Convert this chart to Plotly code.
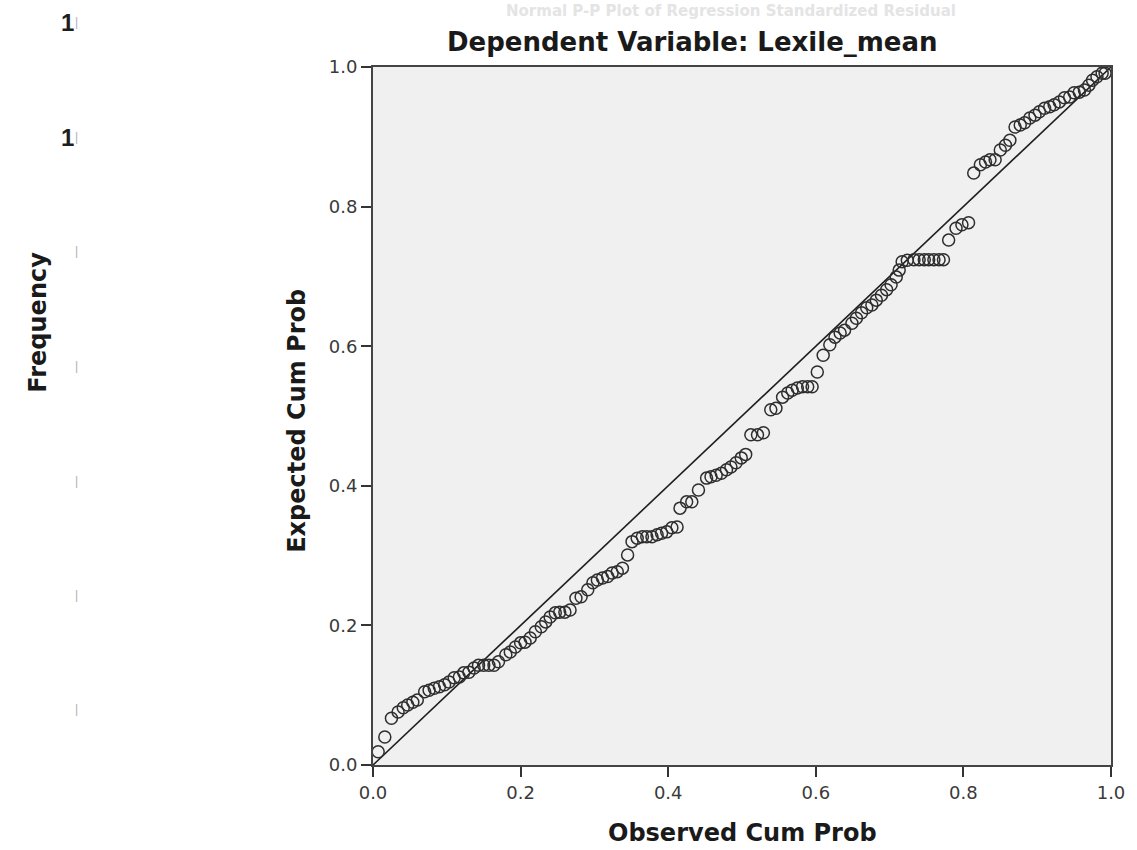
import plotly.graph_objects as go

# ---------------- data ----------------
observed_cum_prob = [
    0.007, 0.016, 0.025, 0.034, 0.041, 0.047, 0.054, 0.060, 0.070, 0.076,
    0.083, 0.090, 0.097, 0.103, 0.110, 0.117, 0.123, 0.130, 0.137, 0.143,
    0.150, 0.157, 0.164, 0.170, 0.180, 0.186, 0.193, 0.200, 0.206, 0.213,
    0.220, 0.228, 0.234, 0.240, 0.247, 0.253, 0.260, 0.267, 0.275, 0.282,
    0.291, 0.298, 0.304, 0.311, 0.318, 0.324, 0.331, 0.338, 0.345, 0.351,
    0.358, 0.365, 0.371, 0.378, 0.385, 0.391, 0.398, 0.405, 0.412, 0.416,
    0.425, 0.432, 0.441, 0.452, 0.458, 0.465, 0.472, 0.479, 0.485, 0.492,
    0.499, 0.505, 0.512, 0.521, 0.529, 0.539, 0.546, 0.555, 0.562, 0.568,
    0.575, 0.582, 0.589, 0.595, 0.602, 0.610, 0.619, 0.626, 0.633, 0.639,
    0.649, 0.655, 0.662, 0.669, 0.676, 0.682, 0.689, 0.696, 0.702, 0.709,
    0.713, 0.717, 0.724, 0.733, 0.740, 0.747, 0.753, 0.760, 0.767, 0.773,
    0.780, 0.790, 0.798, 0.807, 0.814, 0.823, 0.830, 0.836, 0.843, 0.850,
    0.857, 0.863, 0.870, 0.877, 0.883, 0.890, 0.897, 0.903, 0.910, 0.917,
    0.923, 0.930, 0.937, 0.944, 0.950, 0.957, 0.964, 0.970, 0.975, 0.981,
    0.988, 0.992,
]
expected_cum_prob = [
    0.019, 0.040, 0.067, 0.076, 0.082, 0.086, 0.090, 0.093, 0.105, 0.107,
    0.110, 0.112, 0.115, 0.119, 0.125, 0.126, 0.132, 0.133, 0.139, 0.143,
    0.143, 0.143, 0.143, 0.148, 0.158, 0.162, 0.169, 0.175, 0.176, 0.182,
    0.191, 0.198, 0.205, 0.212, 0.218, 0.219, 0.219, 0.222, 0.239, 0.241,
    0.251, 0.261, 0.265, 0.268, 0.270, 0.275, 0.277, 0.282, 0.301, 0.320,
    0.325, 0.327, 0.327, 0.327, 0.330, 0.332, 0.334, 0.340, 0.341, 0.368,
    0.377, 0.377, 0.394, 0.411, 0.413, 0.415, 0.418, 0.423, 0.427, 0.433,
    0.440, 0.445, 0.473, 0.473, 0.476, 0.509, 0.511, 0.527, 0.533, 0.537,
    0.540, 0.542, 0.542, 0.542, 0.563, 0.587, 0.602, 0.613, 0.619, 0.623,
    0.633, 0.640, 0.648, 0.655, 0.659, 0.666, 0.673, 0.681, 0.688, 0.699,
    0.709, 0.721, 0.723, 0.724, 0.724, 0.724, 0.724, 0.724, 0.724, 0.724,
    0.752, 0.769, 0.774, 0.777, 0.848, 0.860, 0.864, 0.867, 0.867, 0.881,
    0.888, 0.895, 0.914, 0.917, 0.920, 0.927, 0.931, 0.936, 0.941, 0.943,
    0.946, 0.950, 0.956, 0.957, 0.963, 0.964, 0.967, 0.974, 0.981, 0.986,
    0.991, 0.991,
]
reference_line = [0.0, 1.0]

tick_values = [0.0, 0.2, 0.4, 0.6, 0.8, 1.0]
tick_labels = ["0.0", "0.2", "0.4", "0.6", "0.8", "1.0"]

title_text = "Dependent Variable: Lexile_mean"
hidden_title_text = "Normal P-P Plot of Regression Standardized Residual"
x_title = "Observed Cum Prob"
y_title = "Expected Cum Prob"
underlying_y_title = "Frequency"
# remnants of the underlying histogram's y tick labels (only first glyphs visible)
underlying_tick_fragments = ["1", "1", "", "", "", "", ""]

# ---------------- layout geometry ----------------
W, H = 1137, 850
PL, PR, PT, PB = 373, 1119, 67, 765


def px_x(px):
    return (px - PL) / (PR - PL)


def px_y(py):
    return (PB - py) / (PB - PT)


fig = go.Figure()

fig.add_trace(go.Scatter(
    x=reference_line, y=reference_line, mode="lines",
    line=dict(color="#1e1e1e", width=1.6),
    hoverinfo="skip", showlegend=False,
))
fig.add_trace(go.Scatter(
    x=observed_cum_prob, y=expected_cum_prob, mode="markers",
    marker=dict(symbol="circle-open", size=12,
                line=dict(color="#2e2e2e", width=1.5), color="#2e2e2e"),
    showlegend=False,
))

TICKFONT = dict(family="DejaVu Sans", size=18, color="#3a3a3a")
axis_common = dict(
    range=[0, 1], tickvals=tick_values, ticktext=tick_labels,
    ticks="outside", ticklen=10, tickwidth=1.5, tickcolor="#333333",
    showline=True, linecolor="#444444", linewidth=2, mirror=True,
    showgrid=False, zeroline=False, tickfont=TICKFONT,
)

fig.update_layout(
    width=W, height=H,
    margin=dict(l=PL, r=W - PR, t=PT, b=H - PB),
    paper_bgcolor="white", plot_bgcolor="#f0f0f0",
    xaxis=dict(**axis_common),
    yaxis=dict(**axis_common),
    showlegend=False,
)

annotations = [
    dict(text="<b>" + title_text + "</b>", x=px_x(696), y=px_y(42),
         font=dict(family="DejaVu Sans", size=26, color="#1a1a1a")),
    dict(text="<b>" + hidden_title_text + "</b>", x=px_x(735), y=px_y(11),
         font=dict(family="DejaVu Sans", size=15, color="#e4e4e4")),
    dict(text="<b>" + x_title + "</b>", x=px_x(746), y=px_y(833),
         font=dict(family="DejaVu Sans", size=24, color="#1a1a1a")),
    dict(text="<b>" + y_title + "</b>", x=px_x(296), y=px_y(421), textangle=-90,
         font=dict(family="DejaVu Sans", size=24, color="#1a1a1a")),
    dict(text="<b>" + underlying_y_title + "</b>", x=px_x(34), y=px_y(322),
         textangle=-90,
         font=dict(family="DejaVu Sans", size=24, color="#1a1a1a")),
]

fragment_rows = [22, 137, 251, 366, 481, 595, 709]
for frag, row in zip(underlying_tick_fragments, fragment_rows):
    if frag:
        annotations.append(dict(text="<b>" + frag + "</b>", x=px_x(64), y=px_y(row),
                                font=dict(family="Liberation Sans", size=24,
                                          color="#1e1e1e")))
    annotations.append(dict(text="|", x=px_x(73), y=px_y(row),
                            font=dict(family="Liberation Sans", size=12,
                                      color="#b0b0b0")))

for a in annotations:
    a.update(xref="paper", yref="paper", showarrow=False,
             xanchor="center", yanchor="middle")
fig.update_layout(annotations=annotations)

fig.write_html("out.html")
